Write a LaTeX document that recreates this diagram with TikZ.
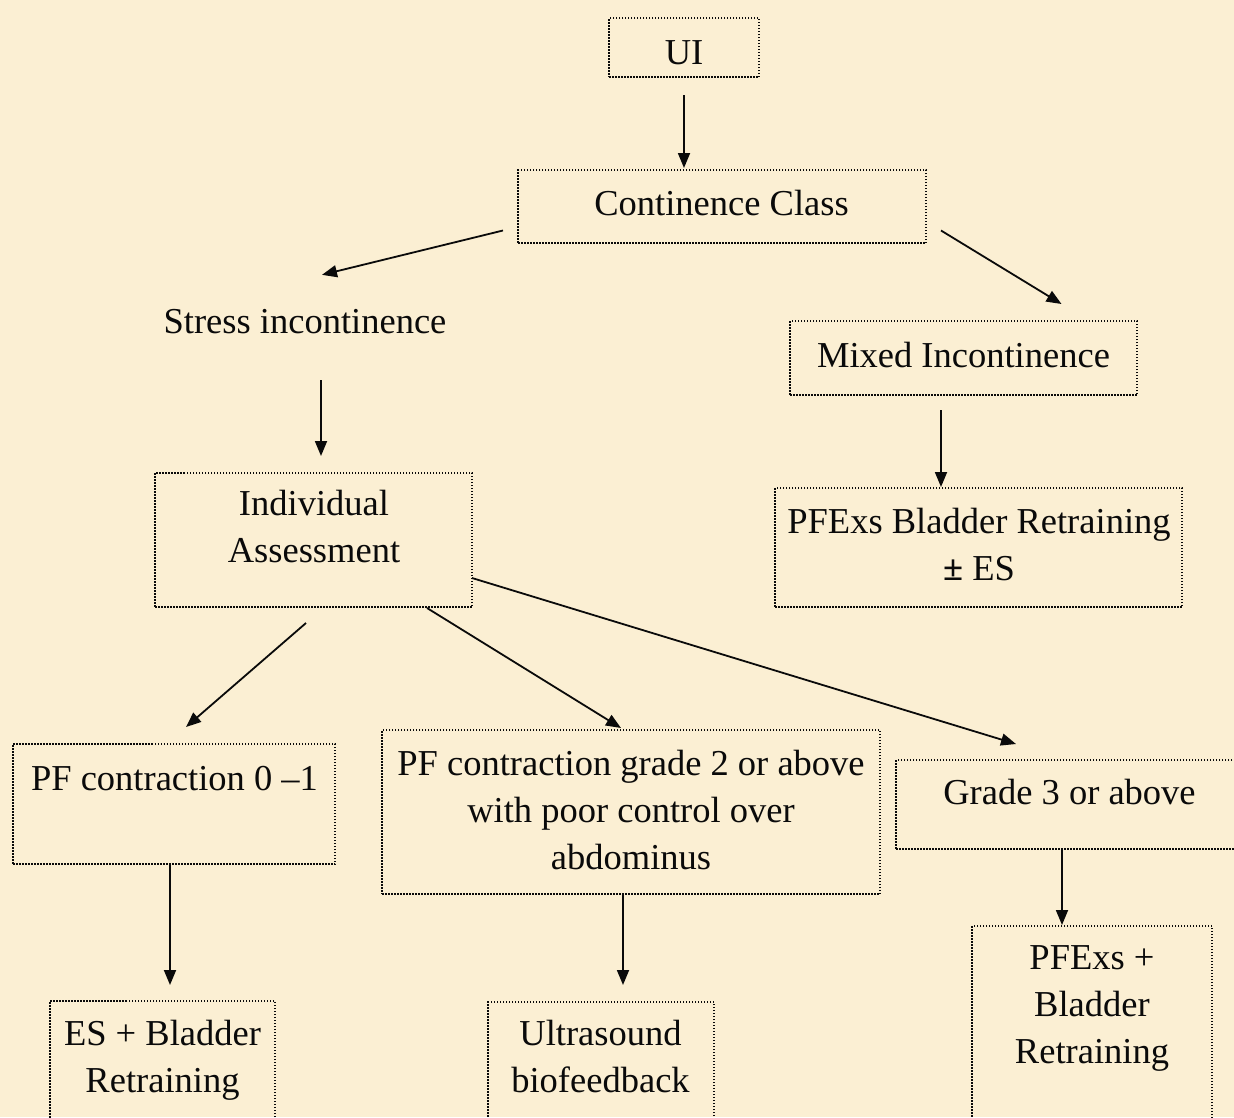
\documentclass[tikz,border=0pt]{standalone}
\usepackage{fontspec}
\setmainfont{Liberation Serif}
\usetikzlibrary{arrows.meta}
\definecolor{parch}{HTML}{FBEFD3}
\definecolor{ink}{HTML}{0A0A0A}
\tikzset{
  box/.style={draw=ink, line width=1.6pt, dash pattern=on 1.5pt off 1.5pt, rectangle, inner sep=0pt, outer sep=0pt, anchor=north west},
  txt/.style={inner sep=0pt, outer sep=0pt, align=center, text=ink, font=\fontsize{36.5}{47}\selectfont},
  arr/.style={draw=ink, line width=1.8pt, -{Triangle[length=15pt,width=12pt]}}
}
\begin{document}
\begin{tikzpicture}[x=1pt,y=-1pt]
\fill[parch] (0,0) rectangle (1234,1117);
\useasboundingbox (0,0) rectangle (1234,1117);
\clip (0,0) rectangle (1234,1117);
% boxes
\node[box, minimum width=150pt, minimum height=59pt] (ui) at (609,18) {};
\node[box, minimum width=408pt, minimum height=73pt] (cc) at (518,170) {};
\node[box, minimum width=347pt, minimum height=74pt] (mixed) at (790,321) {};
\node[box, minimum width=317pt, minimum height=134pt] (ia) at (155,473) {};
\node[box, minimum width=407pt, minimum height=119pt] (pfes) at (775,488) {};
\node[box, minimum width=322pt, minimum height=120pt] (pf01) at (13,744) {};
\node[box, minimum width=498pt, minimum height=164pt] (pf2) at (382,730) {};
\node[box, minimum width=347pt, minimum height=89pt] (g3) at (896,760) {};
\node[box, minimum width=225pt, minimum height=140pt] (esbr) at (50,1001) {};
\node[box, minimum width=226pt, minimum height=140pt] (us) at (488,1002) {};
\node[box, minimum width=240pt, minimum height=210pt] (pfbr) at (972,926) {};
% texts
\node[txt, anchor=base] (ui-t) at (684,64) {UI};
\node[txt, anchor=base] (cc-t) at (721.5,215) {Continence Class};
\node[txt, anchor=base] (stress) at (305,333) {Stress incontinence};
\node[txt, anchor=base] (mixed-t) at (963.5,367) {Mixed Incontinence};
\node[txt, anchor=north] (ia-t) at (314,490) {Individual\\Assessment};
\node[txt, anchor=north] (pfes-t) at (979,508) {PFExs Bladder Retraining\\{\bfseries ±} ES};
\node[txt, anchor=base] (pf01-t) at (174.5,790) {PF contraction 0 –1};
\node[txt, anchor=north] (pf2-t) at (631,750) {PF contraction grade 2 or above\\with poor control over\\abdominus};
\node[txt, anchor=base] (g3-t) at (1069.5,804) {Grade 3 or above};
\node[txt, anchor=north] (esbr-t) at (162.5,1020) {ES + Bladder\\Retraining};
\node[txt, anchor=north] (us-t) at (600.5,1020) {Ultrasound\\biofeedback};
\node[txt, anchor=north] (pfbr-t) at (1092,946) {PFExs +\\Bladder\\Retraining};
% connectors
\draw[arr] ([yshift=-18pt]ui.south) -- ([yshift=2pt]ui.south |- cc.north);
\draw[arr] ([xshift=-15pt,yshift=-24pt]cc.west) -- ([xshift=17pt,yshift=34pt]stress.north);
\draw[arr] ([xshift=15pt,yshift=-24pt]cc.east) -- ([xshift=98pt,yshift=17pt]mixed.north);
\draw[arr] ([xshift=16pt,yshift=-47pt]stress.base) -- ([xshift=7.5pt,yshift=17pt]ia.north);
\draw[arr] ([xshift=-22.5pt,yshift=-15pt]mixed.south) -- ([xshift=-37.5pt,yshift=1pt]pfes.north);
\draw[arr] ([xshift=-7.5pt,yshift=-16pt]ia.south) -- ([xshift=12pt,yshift=17pt]pf01.north);
\draw[arr] ([xshift=-45pt,yshift=-1pt]ia.south east) -- ([xshift=-10pt,yshift=2pt]pf2.north);
\draw[arr] ([yshift=-38pt]ia.east) -- ([xshift=120pt,yshift=16pt]g3.north west);
\draw[arr] ([xshift=-4pt]pf01.south) -- ([xshift=7.5pt,yshift=16pt]esbr.north);
\draw[arr] ([xshift=-8pt]pf2.south) -- ([xshift=22pt,yshift=17pt]us.north);
\draw[arr] ([xshift=166pt]g3.south west) -- ([xshift=-30pt,yshift=1pt]pfbr.north);
\end{tikzpicture}
\end{document}
